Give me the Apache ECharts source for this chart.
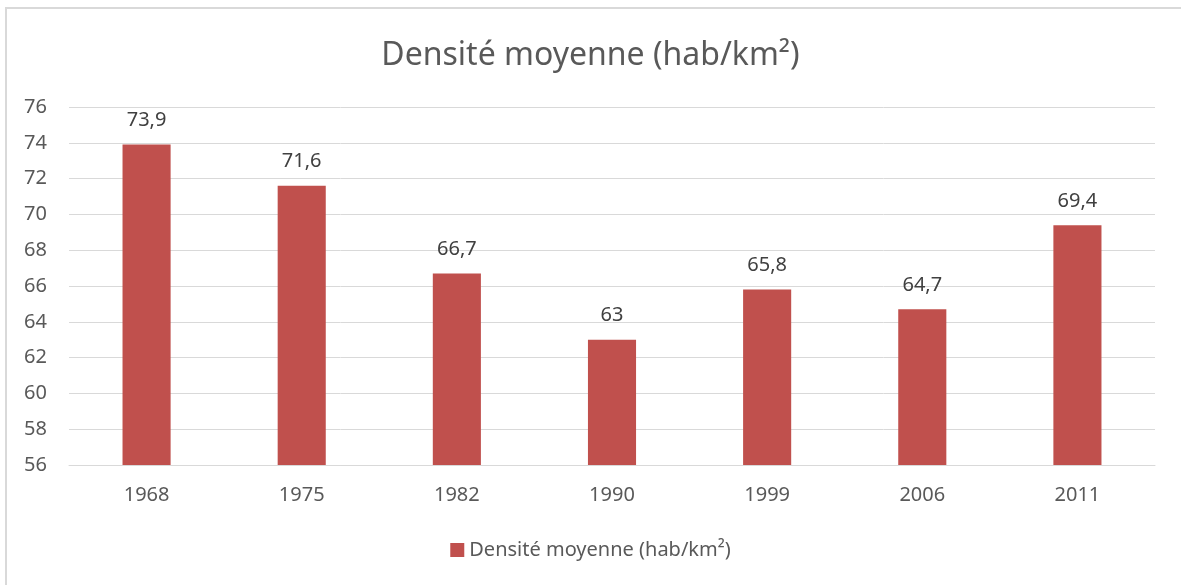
<!DOCTYPE html>
<html>
<head>
<meta charset="utf-8">
<script src="https://cdn.jsdelivr.net/npm/echarts@6/dist/echarts.min.js"></script>
<style>
  html, body { margin: 0; padding: 0; background: #fff; }
  #frame {
    position: absolute; left: 5px; top: 7px; width: 1200px; height: 600px;
    border: 2px solid #d9d9d9; box-sizing: border-box;
  }
  #chart { position: absolute; left: 0; top: 0; width: 1181px; height: 585px; }
</style>
</head>
<body>
<div id="frame"></div>
<div id="chart"></div>
<script>
  const years = ['1968', '1975', '1982', '1990', '1999', '2006', '2011']
  const densite = [73.9, 71.6, 66.7, 63, 65.8, 64.7, 69.4]
  const seriesName = 'Densité moyenne (hab/km²)'
  const font = 'Noto Sans'

  let chart = echarts.init(document.getElementById('chart'))
  let options = {
    title: {
      text: seriesName,
      left: 'center',
      top: 35,
      textStyle: { fontFamily: font, fontSize: 32, fontWeight: 'normal', color: '#595959' }
    },
    legend: {
      data: [seriesName],
      bottom: 20,
      left: 'center',
      icon: 'rect',
      itemWidth: 14,
      itemHeight: 14,
      itemGap: 6,
      textStyle: { fontFamily: font, fontSize: 20, color: '#595959' }
    },
    grid: { left: 69, right: 26, top: 107, bottom: 120 },
    xAxis: {
      type: 'category',
      data: years,
      axisLine: { lineStyle: { color: '#d9d9d9', width: 1 } },
      axisTick: { show: false },
      axisLabel: { fontFamily: font, fontSize: 20, color: '#595959', margin: 20 }
    },
    yAxis: {
      type: 'value',
      min: 56,
      max: 76,
      interval: 2,
      axisLine: { show: false },
      axisTick: { show: false },
      axisLabel: { fontFamily: font, fontSize: 20, color: '#595959', margin: 22 },
      splitLine: { lineStyle: { color: '#d9d9d9', width: 1 } }
    },
    series: [{
      name: seriesName,
      type: 'bar',
      data: densite,
      barWidth: '31%',
      itemStyle: { color: '#c0504d' },
      label: {
        show: true,
        position: 'top',
        distance: 14,
        fontFamily: font,
        fontSize: 20,
        color: '#404040',
        formatter: p => String(p.value).replace('.', ',')
      }
    }]
  }
  chart.setOption(options, true)
</script>
</body>
</html>
